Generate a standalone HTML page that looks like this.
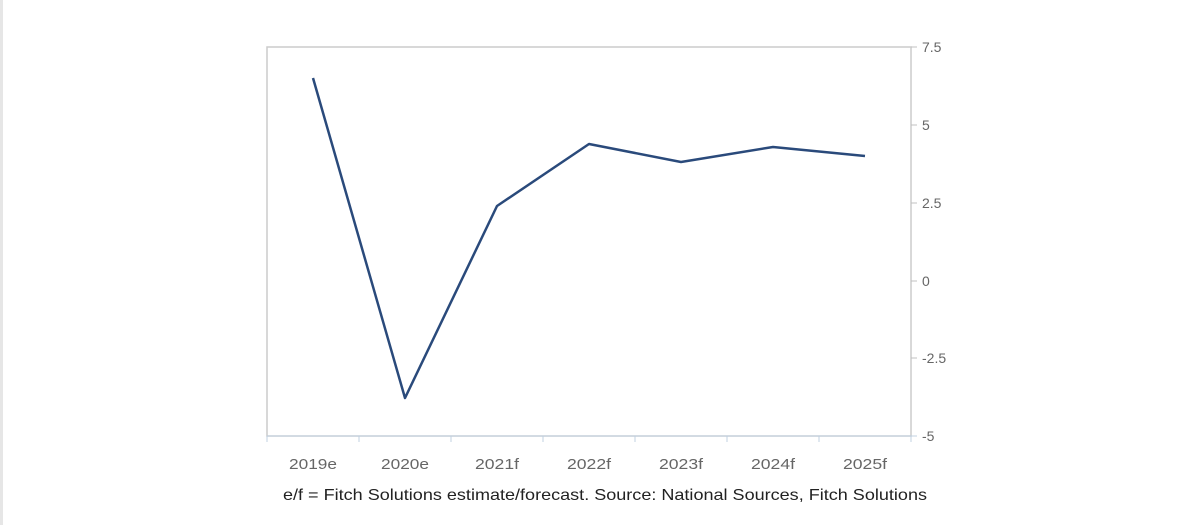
<!DOCTYPE html>
<html><head><style>
body{margin:0;background:#fff;width:1194px;height:525px;overflow:hidden;font-family:"Liberation Sans",sans-serif}
</style></head><body>
<div style="position:absolute;left:0;top:0;width:3px;height:525px;background:#e6e6e6"></div>
<svg width="1194" height="525" style="position:absolute;left:0;top:0">
<rect x="267" y="47" width="644" height="389" fill="none" stroke="#cccccc" stroke-width="1.5"/>
<g stroke="#c0c0c0"><line x1="911" y1="47" x2="917" y2="47"/><line x1="911" y1="125" x2="917" y2="125"/><line x1="911" y1="203" x2="917" y2="203"/><line x1="911" y1="281" x2="917" y2="281"/><line x1="911" y1="358" x2="917" y2="358"/></g>
<line x1="267" y1="436" x2="917" y2="436" stroke="#c0d0e0"/>
<g stroke="#c0d0e0"><line x1="267" y1="436" x2="267" y2="442"/><line x1="359" y1="436" x2="359" y2="442"/><line x1="451" y1="436" x2="451" y2="442"/><line x1="543" y1="436" x2="543" y2="442"/><line x1="635" y1="436" x2="635" y2="442"/><line x1="727" y1="436" x2="727" y2="442"/><line x1="819" y1="436" x2="819" y2="442"/><line x1="911" y1="436" x2="911" y2="442"/></g>
<g font-size="14" fill="#666"><text x="922" y="52">7.5</text><text x="922" y="130">5</text><text x="922" y="208">2.5</text><text x="922" y="286">0</text><text x="922" y="363">-2.5</text><text x="922" y="441">-5</text></g>
<g font-size="15" fill="#666" text-anchor="middle" lengthAdjust="spacingAndGlyphs"><text x="313" y="469" textLength="48" lengthAdjust="spacingAndGlyphs">2019e</text><text x="405" y="469" textLength="48" lengthAdjust="spacingAndGlyphs">2020e</text><text x="497" y="469" textLength="44" lengthAdjust="spacingAndGlyphs">2021f</text><text x="589" y="469" textLength="44" lengthAdjust="spacingAndGlyphs">2022f</text><text x="681" y="469" textLength="44" lengthAdjust="spacingAndGlyphs">2023f</text><text x="773" y="469" textLength="44" lengthAdjust="spacingAndGlyphs">2024f</text><text x="865" y="469" textLength="44" lengthAdjust="spacingAndGlyphs">2025f</text></g>
<polyline points="313,78 405,398 497,206 589,144 681,162 773,147 865,156" fill="none" stroke="#2a4a7b" stroke-width="2.5" stroke-linejoin="round"/>
<text x="283" y="500" font-size="16" fill="#222" textLength="644" lengthAdjust="spacingAndGlyphs">e/f = Fitch Solutions estimate/forecast. Source: National Sources, Fitch Solutions</text>
</svg>
</body></html>
